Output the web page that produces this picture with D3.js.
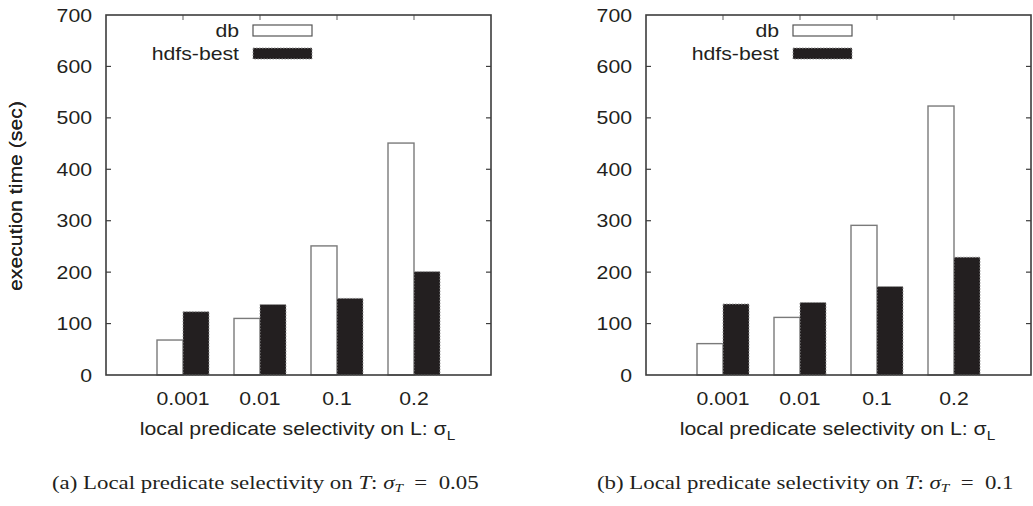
<!DOCTYPE html>
<html>
<head>
<meta charset="utf-8">
<script src="https://cdn.jsdelivr.net/npm/d3@7/dist/d3.min.js"></script>
<style>
  body { margin: 0; background: #fff; }
  svg { display: block; }
  .tick-label, .axis-title, .legend text { font-family: "Liberation Sans", Arial, sans-serif; fill: #231f20; }
  .caption { font-family: "Liberation Serif", "Times New Roman", serif; fill: #231f20; }
</style>
</head>
<body>
<svg id="chart" width="1033" height="506"></svg>
<script>
// selectivity on L, shared by both panels
var categories = ["0.001", "0.01", "0.1", "0.2"];
var yTicks = [0, 100, 200, 300, 400, 500, 600, 700];
var seriesNames = ["db", "hdfs-best"];

// panel (a): sigma_T = 0.05
var dbA = [68, 110, 251, 451];
var hdfsA = [123, 137, 149, 201];
// panel (b): sigma_T = 0.1
var dbB = [61, 112, 291, 523];
var hdfsB = [138, 141, 172, 229];

var panels = [
  { left: 106, db: dbA, hdfs: hdfsA, tag: "(a)", val: "0.05", capX: 52 },
  { left: 646, db: dbB, hdfs: hdfsB, tag: "(b)", val: "0.1", capX: 597 }
];

var svg = d3.select("#chart");
var plotW = 385, plotTop = 15, plotBottom = 375, barW = 26;
var axisColor = "#3d3d3d";
var sx = 1.18;   // the original fonts run wider than Liberation Sans

function place(sel, x, y, rot) {
  return sel.attr("transform", "translate(" + x + "," + y + ")" + (rot ? " rotate(" + rot + ")" : "") + " scale(" + sx + ",1)");
}

panels.forEach(function(p) {
  var g = svg.append("g").attr("transform", "translate(" + p.left + ",0)");

  // group slots 1..4 of 0..5, like gnuplot's histogram layout
  var x = d3.scaleLinear().domain([0, categories.length + 1]).range([0, plotW]);
  var y = d3.scaleLinear().domain([0, 700]).range([plotBottom, plotTop]);

  var groups = g.selectAll(".grp")
      .data(categories)
      .enter().append("g")
      .attr("class", "grp");

  groups.append("rect")
      .attr("x", function(d, i) { return x(i + 1) - barW; })
      .attr("y", function(d, i) { return y(p.db[i]); })
      .attr("width", barW)
      .attr("height", function(d, i) { return y(0) - y(p.db[i]); })
      .style("fill", "#fff")
      .style("stroke", "#7a7a7a")
      .style("stroke-width", 1.4);

  groups.append("rect")
      .attr("x", function(d, i) { return x(i + 1); })
      .attr("y", function(d, i) { return y(p.hdfs[i]); })
      .attr("width", barW)
      .attr("height", function(d, i) { return y(0) - y(p.hdfs[i]); })
      .style("fill", "#231f20")
      .style("stroke", "#9a9a9a")
      .style("stroke-width", 1)
      .style("stroke-dasharray", "1.5,1.5");

  // inward ticks, left and right
  yTicks.forEach(function(t) {
    if (t === 0 || t === 700) return;
    g.append("line").attr("x1", 0).attr("x2", 5).attr("y1", y(t)).attr("y2", y(t))
      .style("stroke", axisColor).style("stroke-width", 1.2);
    g.append("line").attr("x1", plotW - 5).attr("x2", plotW).attr("y1", y(t)).attr("y2", y(t))
      .style("stroke", axisColor).style("stroke-width", 1.2);
  });
  categories.forEach(function(c, i) {
    g.append("line").attr("x1", x(i + 1)).attr("x2", x(i + 1)).attr("y1", plotTop).attr("y2", plotTop + 5)
      .style("stroke", "#777").style("stroke-width", 1.2);
  });

  // frame
  g.append("rect")
      .attr("x", 0).attr("y", plotTop)
      .attr("width", plotW).attr("height", plotBottom - plotTop)
      .style("fill", "none")
      .style("stroke", axisColor)
      .style("stroke-width", 1.6);

  // y tick labels
  yTicks.forEach(function(t) {
    place(g.append("text"), -14, y(t) + 6.5)
        .attr("class", "tick-label")
        .attr("text-anchor", "end")
        .style("font-size", "18px")
        .text(t);
  });

  // x tick labels
  categories.forEach(function(c, i) {
    place(g.append("text"), x(i + 1), 405)
        .attr("class", "tick-label")
        .attr("text-anchor", "middle")
        .style("font-size", "18px")
        .text(c);
  });

  // x title
  var xt = place(g.append("text"), plotW / 2 - 1, 435)
      .attr("class", "axis-title")
      .attr("text-anchor", "middle")
      .style("font-size", "18px");
  xt.append("tspan").text("local predicate selectivity on L: σ");
  xt.append("tspan").attr("dy", 5).style("font-size", "13px").text("L");

  // y title
  place(g.append("text"), -p.left + 22, 196, -90)
      .attr("class", "axis-title")
      .attr("text-anchor", "middle")
      .style("font-size", "18px")
      .text("execution time (sec)");

  // legend
  var leg = g.append("g").attr("class", "legend");
  seriesNames.forEach(function(s, i) {
    var ly = 25 + i * 23;
    place(leg.append("text"), 133, ly + 12)
        .attr("text-anchor", "end")
        .style("font-size", "18px")
        .text(s);
    leg.append("rect")
        .attr("x", 147).attr("y", ly)
        .attr("width", 59).attr("height", 11)
        .style("fill", i === 0 ? "#fff" : "#231f20")
        .style("stroke", i === 0 ? "#555" : "#999")
        .style("stroke-width", i === 0 ? 1.2 : 1)
        .style("stroke-dasharray", i === 0 ? null : "1.5,1.5");
  });

  // caption
  var cap = svg.append("text")
      .attr("class", "caption")
      .attr("transform", "translate(" + p.capX + ",489) scale(1.27,1)")
      .style("font-size", "18px");
  cap.append("tspan").text(p.tag + "  Local predicate selectivity on ");
  cap.append("tspan").style("font-style", "italic").text("T");
  cap.append("tspan").text(": ");
  cap.append("tspan").style("font-style", "italic").text("σ");
  cap.append("tspan").attr("dy", 3).style("font-size", "12px").style("font-style", "italic").text("T");
  cap.append("tspan").attr("dy", -3).text("\u2002=\u2002" + p.val);
});
</script>
</body>
</html>
